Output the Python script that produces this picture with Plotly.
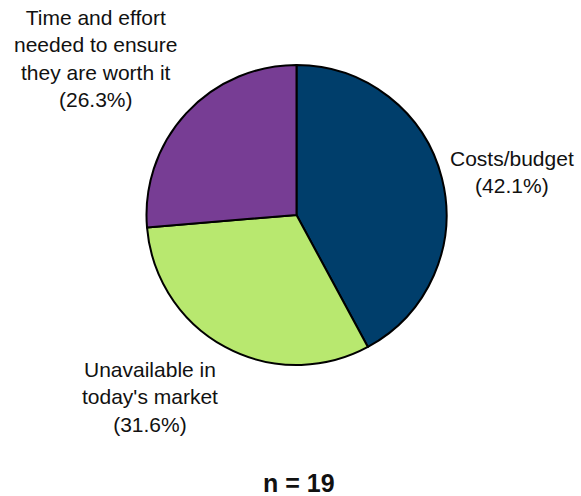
import plotly.graph_objects as go

categories = ["Costs/budget", "Unavailable in<br>today's market", "Time and effort<br>needed to ensure<br>they are worth it"]
counts = [8, 6, 5]
colors = ["#003e6b", "#b8e86f", "#773d94"]
n_total = sum(counts)

W, H = 581, 496
cx, cy, r = 296.5, 215, 150

fig = go.Figure(go.Pie(
    values=counts,
    labels=categories,
    sort=False,
    direction="clockwise",
    rotation=0,
    marker=dict(colors=colors, line=dict(color="black", width=2)),
    textinfo="none",
    hoverinfo="label+percent",
    showlegend=False,
    domain=dict(x=[(cx - r) / W, (cx + r) / W], y=[(H - cy - r) / H, (H - cy + r) / H]),
))

# label block centres (pixels)
label_pos = [(512, 172), (150, 397), (95, 59)]
font = dict(family="Liberation Sans, Arial, sans-serif", size=21, color="#111111")
for cat, c, (x, y) in zip(categories, counts, label_pos):
    pct = 100 * c / n_total
    fig.add_annotation(
        text=f"{cat}<br>({pct:.1f}%)",
        x=x / W, y=1 - y / H, xref="paper", yref="paper",
        xanchor="center", yanchor="middle", showarrow=False, align="center",
        font=font,
    )

fig.add_annotation(
    text=f"<b>n = {n_total}</b>",
    x=299 / W, y=1 - 483 / H, xref="paper", yref="paper",
    xanchor="center", yanchor="middle", showarrow=False,
    font=dict(family="Liberation Sans, Arial, sans-serif", size=25, color="#111111"),
)

fig.update_layout(
    width=W, height=H,
    margin=dict(l=0, r=0, t=0, b=0),
    paper_bgcolor="white", plot_bgcolor="white",
)
fig.write_html("out.html")
